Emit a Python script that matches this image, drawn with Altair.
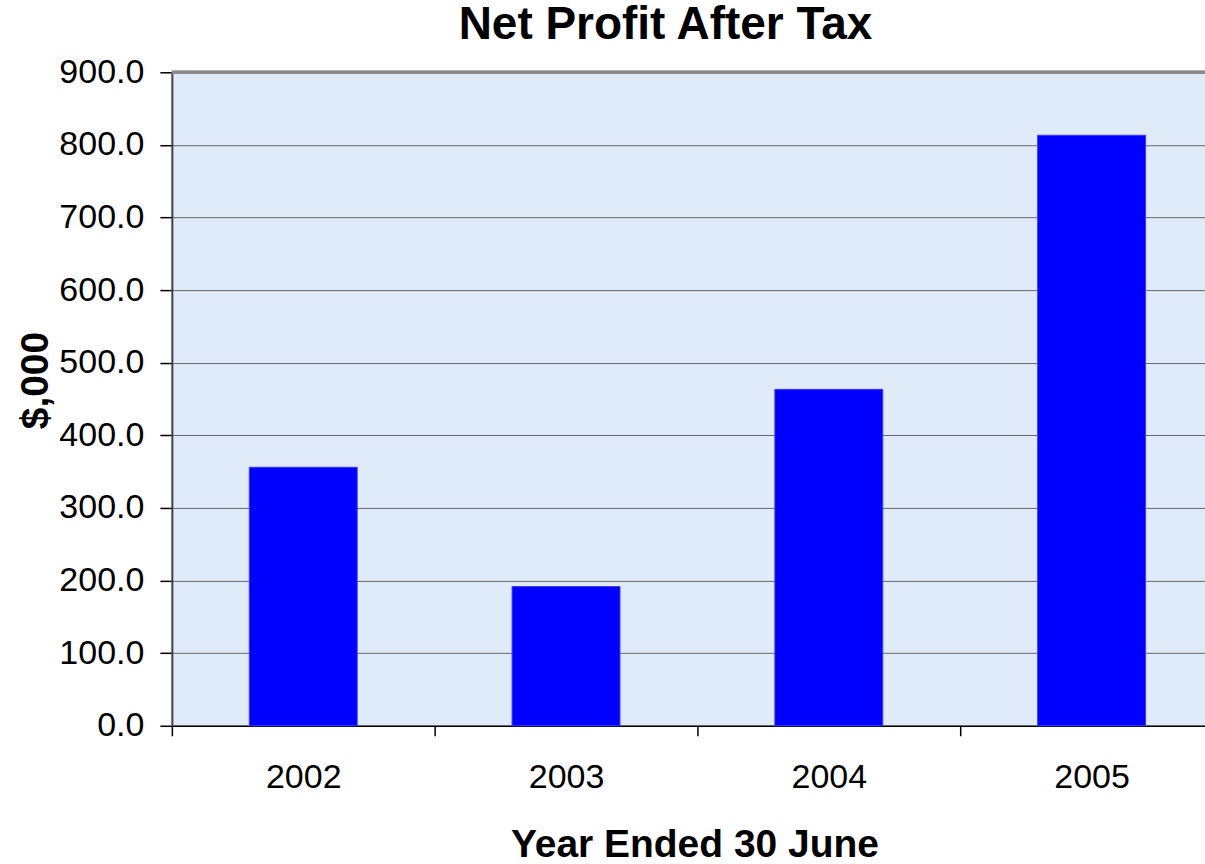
import altair as alt
import pandas as pd

# Net profit after tax, $'000, by financial year ended 30 June
years = [2002, 2003, 2004, 2005]
profit = [356.0, 191.7, 463.3, 813.3]

FONT = "Liberation Sans"
PLOT_W = 1034          # plot area width; the last band runs past the right edge
PLOT_H = 654
STEP = 263             # pixel width of one year band
Y_MAX = 900

df = pd.DataFrame({"year": years, "profit": profit})

x_lo = years[0] - 0.5
x_hi = x_lo + PLOT_W / STEP

x_scale = alt.Scale(domain=[x_lo, x_hi], nice=False, zero=False, padding=0)
y_scale = alt.Scale(domain=[0, Y_MAX], nice=False)

bars = (
    alt.Chart(df)
    .mark_bar(width=108, color="#0000ff", stroke="#3a3aff", strokeWidth=1)
    .encode(
        x=alt.X(
            "year:Q",
            scale=x_scale,
            axis=alt.Axis(
                title="Year Ended 30 June",
                values=[y - 0.5 for y in years],
                labelExpr="format(datum.value + 0.5, 'd')",
                labelOffset=STEP / 2,
                labelFlush=False,
                labelOverlap=False,
                labelFont=FONT,
                labelFontSize=34,
                labelColor="black",
                labelPadding=25,
                tickSize=10,
                tickColor="black",
                tickWidth=1.5,
                domainColor="black",
                domainWidth=1.5,
                grid=False,
                titleFont=FONT,
                titleFontSize=39,
                titleFontWeight="bold",
                titleColor="black",
                titleX=523,
                titleY=131,
                titleBaseline="alphabetic",
            ),
        ),
        y=alt.Y(
            "profit:Q",
            scale=y_scale,
            axis=alt.Axis(
                title="$,000",
                values=list(range(0, Y_MAX + 1, 100)),
                format=".1f",
                labelFont=FONT,
                labelFontSize=34,
                labelColor="black",
                labelPadding=16,
                tickSize=12,
                tickColor="black",
                tickWidth=1.5,
                domainColor="#404040",
                domainWidth=2,
                grid=True,
                gridColor="#666666",
                gridWidth=1,
                titleFont=FONT,
                titleFontSize=39,
                titleFontWeight="bold",
                titleColor="black",
                titleAngle=270,
                titleAlign="center",
                titleBaseline="middle",
                titleX=-136,
                titleY=308,
            ),
        ),
    )
)

# top edge of the plot frame
top_edge = (
    alt.Chart(df)
    .mark_rule(color="#8a8a8a", strokeWidth=3)
    .encode(y=alt.datum(Y_MAX, scale=y_scale))
)

chart = (
    alt.layer(bars, top_edge)
    .properties(
        width=PLOT_W,
        height=PLOT_H,
        title=alt.TitleParams(
            "Net Profit After Tax",
            font=FONT,
            fontSize=46,
            fontWeight="bold",
            color="black",
            anchor="middle",
            frame="group",
            dx=-23,
            offset=6,
        ),
        autosize=alt.AutoSizeParams(type="none"),
        padding={"left": 172, "top": 72, "right": 0, "bottom": 138},
    )
    .configure(background="white")
    .configure_view(fill="#e0ebfa", stroke="transparent", strokeWidth=0)
)

chart.save("out.html", embed_options={"renderer": "svg", "actions": False})
